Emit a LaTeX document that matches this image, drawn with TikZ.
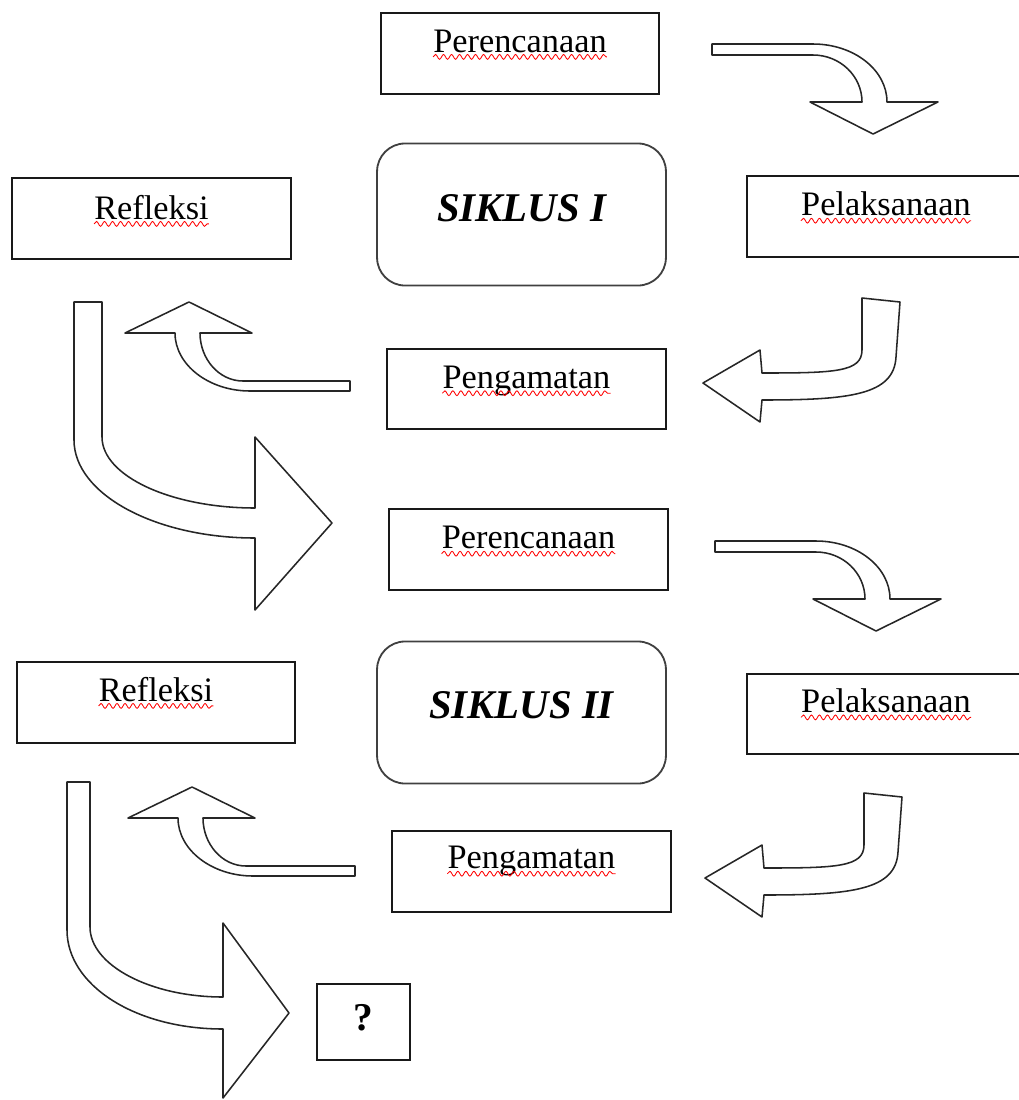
\documentclass[tikz,border=0pt]{standalone}
\usepackage{fontspec}
\setmainfont{Liberation Serif}
\usetikzlibrary{decorations.pathmorphing}

\begin{document}
\begin{tikzpicture}[x=0.025cm,y=-0.025cm,
    box/.style={draw=black!90,line width=1.4pt,minimum width=6.95cm,minimum height=2.02cm,inner sep=0pt},
    cyclebox/.style={box,draw=black!75,line width=1.3pt,rounded corners=0.7cm,minimum width=7.22cm,minimum height=3.55cm},
    lbl/.style={inner sep=0pt,font=\fontsize{24.4}{28}\selectfont},
    title/.style={inner sep=0pt,font=\fontsize{29}{34}\selectfont\bfseries\itshape},
    spell/.style={draw=red,line width=0.6pt,decorate,decoration={snake,segment length=0.2cm,amplitude=0.06cm}},
    blockarrow/.style={draw=black!85,line width=1.1pt,fill=white,line join=round}]
  \useasboundingbox (0,0) rectangle (1019,1100);
  % siklus I
  \node[box] (per1) at (520,53.5) {};
  \node[lbl,anchor=base] (tper1) at ([yshift=-1cm]per1.north) {Perencanaan};
  \node[cyclebox] (sik1) at (521.5,214.5) {};
  \node[title,anchor=base] (tsik1) at ([yshift=-1.97cm]sik1.north) {SIKLUS I};
  \node[box] (ref1) at (151.5,218.5) {};
  \node[lbl,anchor=base] (tref1) at ([yshift=-1.05cm]ref1.north) {Refleksi};
  \node[box] (pel1) at (886,216.5) {};
  \node[lbl,anchor=base] (tpel1) at ([yshift=-1.02cm]pel1.north) {Pelaksanaan};
  \node[box] (pen1) at (526.5,389) {};
  \node[lbl,anchor=base] (tpen1) at ([yshift=-1.02cm]pen1.north) {Pengamatan};
  %
  \draw[blockarrow] (712,44) -- (813,44) .. controls (854,44) and (887,70) .. (887,102)
    -- (938,102) -- (873,134) -- (810,102) -- (862,102)
    .. controls (862,76) and (840,55) .. (813,55) -- (712,55) -- cycle;
  \draw[blockarrow] (862,298) -- (900,302) -- (896,357) .. controls (894,395) and (850,400) .. (762,400)
    -- (760,422) -- (703,383) -- (760,350) -- (762,373)
    .. controls (835,373) and (862,372) .. (862,350) -- cycle;
  \draw[blockarrow] (350,381) -- (243,381) .. controls (219,381) and (200,359) .. (200,333)
    -- (252,333) -- (189,302) -- (125,333) -- (175,333)
    .. controls (175,365) and (209,391) .. (250,391) -- (350,391) -- cycle;
  \draw[blockarrow] (74,302) -- (102,302) -- (102,437) .. controls (102,476) and (171,508) .. (255,508)
    -- (255,437) -- (332,523) -- (255,610) -- (255,538)
    .. controls (155,538) and (74,494) .. (74,440) -- cycle;
  % siklus II
  \node[box] (per2) at (528.5,549.5) {};
  \node[lbl,anchor=base] (tper2) at ([yshift=-1.02cm]per2.north) {Perencanaan};
  \node[cyclebox] (sik2) at (521.5,712.5) {};
  \node[title,anchor=base] (tsik2) at ([yshift=-1.95cm]sik2.north) {SIKLUS II};
  \node[box] (ref2) at (156,702.5) {};
  \node[lbl,anchor=base] (tref2) at ([yshift=-1cm]ref2.north) {Refleksi};
  \node[box] (pel2) at (886,714) {};
  \node[lbl,anchor=base] (tpel2) at ([yshift=-1cm]pel2.north) {Pelaksanaan};
  \node[box] (pen2) at (531.5,871.5) {};
  \node[lbl,anchor=base] (tpen2) at ([yshift=-0.97cm]pen2.north) {Pengamatan};
  \node[box,minimum width=2.32cm,minimum height=1.9cm] (qb) at (363.5,1022) {};
  \node[lbl,font=\fontsize{28}{32}\selectfont\bfseries] (tq) at (363,1018) {?};
  %
  \draw[blockarrow,shift={(3,497)}] (712,44) -- (813,44) .. controls (854,44) and (887,70) .. (887,102)
    -- (938,102) -- (873,134) -- (810,102) -- (862,102)
    .. controls (862,76) and (840,55) .. (813,55) -- (712,55) -- cycle;
  \draw[blockarrow,shift={(2,495)}] (862,298) -- (900,302) -- (896,357) .. controls (894,395) and (850,400) .. (762,400)
    -- (760,422) -- (703,383) -- (760,350) -- (762,373)
    .. controls (835,373) and (862,372) .. (862,350) -- cycle;
  \draw[blockarrow,shift={(3,485)}] (352,381) -- (243,381) .. controls (219,381) and (200,359) .. (200,333)
    -- (252,333) -- (189,302) -- (125,333) -- (175,333)
    .. controls (175,365) and (209,391) .. (250,391) -- (352,391) -- cycle;
  \draw[blockarrow] (67,782) -- (90,782) -- (90,927) .. controls (90,965) and (150,997) .. (223,997)
    -- (223,923) -- (289,1013) -- (223,1098) -- (223,1029)
    .. controls (135,1029) and (67,985) .. (67,930) -- cycle;
  % spelling marks
  \foreach \t in {tper1,tref1,tpel1,tpen1,tper2,tref2,tpel2,tpen2}
    \draw[spell] ([yshift=-3.4pt]\t.base west) -- ([yshift=-3.4pt]\t.base east);
\end{tikzpicture}
\end{document}
